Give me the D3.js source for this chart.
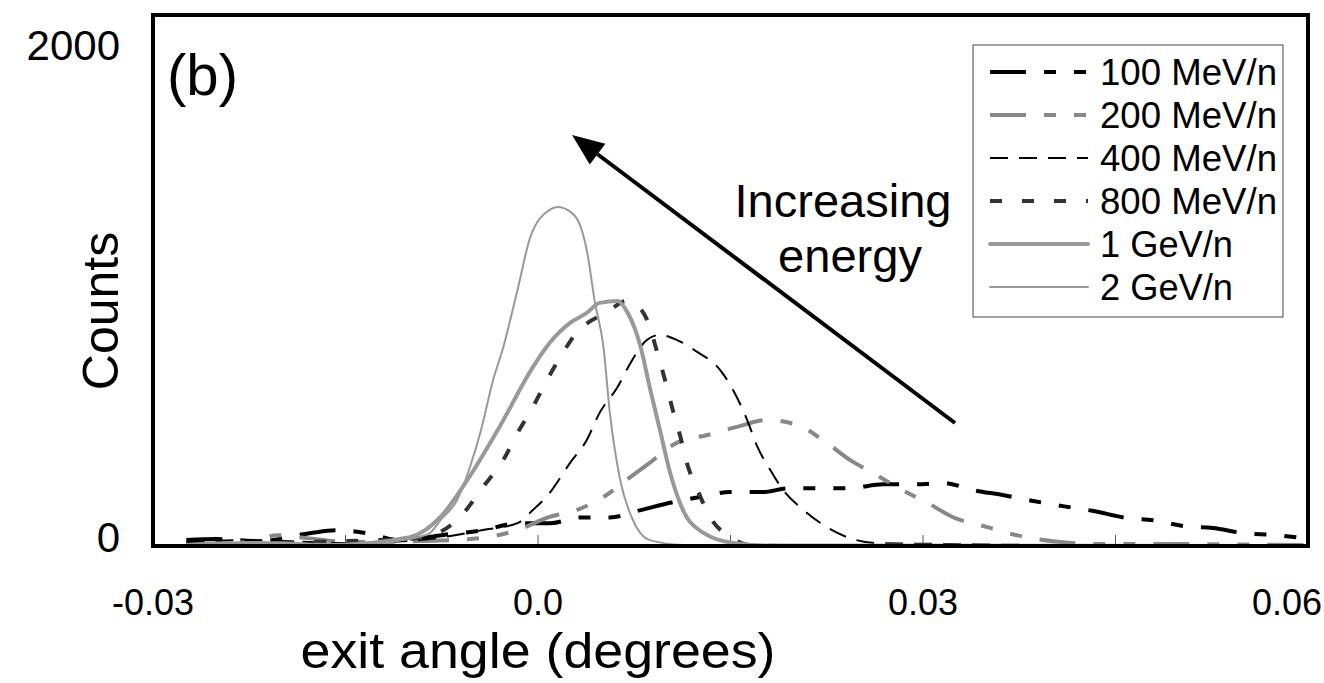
<!DOCTYPE html>
<html>
<head>
<meta charset="utf-8">
<script src="https://cdn.jsdelivr.net/npm/d3@7"></script>
<style>
  body { margin: 0; background: #fff; }
  svg { font-family: "Liberation Sans", Arial, sans-serif; }
</style>
</head>
<body>
<svg id="chart" width="1324" height="683"></svg>
<script>
// exit angle (degrees) vs counts
const mev100 = [[-0.0274,24],[-0.025,28],[-0.0217,20],[-0.0178,52],[-0.0157,64],[-0.0133,52],[-0.0108,24],[-0.0069,48],[-0.0043,64],[-0.0016,92],[0.0009,92],[0.0033,116],[0.0056,116],[0.008,146],[0.0105,178],[0.0126,199],[0.015,219],[0.0175,219],[0.0196,235],[0.0243,235],[0.0269,251],[0.0295,251],[0.0316,256],[0.0339,227],[0.0362,207],[0.0386,183],[0.0409,162],[0.0433,142],[0.0459,114],[0.0479,105],[0.0503,81],[0.0526,73],[0.0549,53],[0.0573,45],[0.06,30]];
const mev200 = [[-0.0274,8],[-0.0224,16],[-0.0203,44],[-0.018,32],[-0.0146,16],[-0.0092,20],[-0.0045,32],[-0.0016,65],[0.0009,118],[0.003,146],[0.0051,199],[0.0069,269],[0.0087,338],[0.0108,419],[0.0132,451],[0.0155,484],[0.0178,512],[0.0202,492],[0.0225,419],[0.0243,350],[0.0261,297],[0.0284,227],[0.0304,174],[0.0323,118],[0.035,77],[0.0372,45],[0.0407,16],[0.0438,8],[0.0477,8],[0.06,4]];
const mev400 = [[-0.0274,16],[-0.0224,24],[-0.0146,12],[-0.0092,24],[-0.0043,65],[-0.0016,93],[-0.0004,146],[0.0009,215],[0.0025,338],[0.0038,431],[0.0048,541],[0.0062,646],[0.0072,743],[0.0085,838],[0.0095,858],[0.0108,838],[0.0124,789],[0.0142,715],[0.0152,634],[0.0163,512],[0.0171,403],[0.0181,309],[0.0191,227],[0.0207,146],[0.0225,77],[0.0243,32],[0.0264,12],[0.032,8],[0.04,4],[0.06,2]];
const mev800 = [[-0.0274,4],[-0.0185,16],[-0.0092,32],[-0.0058,134],[-0.0043,239],[-0.0027,350],[-0.0016,459],[-0.0004,565],[0.0007,674],[0.0017,765],[0.003,866],[0.0054,951],[0.0069,996],[0.0074,988],[0.0086,907],[0.0093,785],[0.0099,674],[0.0105,553],[0.0111,443],[0.0116,338],[0.0125,219],[0.0134,118],[0.015,36],[0.0165,4],[0.02,0],[0.06,0]];
const gev1 = [[-0.0274,4],[-0.0217,12],[-0.0162,4],[-0.01,36],[-0.0076,118],[-0.0055,269],[-0.003,484],[-0.0004,727],[0.0009,825],[0.0025,907],[0.0038,947],[0.0048,988],[0.0062,996],[0.007,947],[0.008,809],[0.0087,646],[0.0095,472],[0.0103,297],[0.0113,146],[0.0129,53],[0.0152,12],[0.018,2],[0.06,0]];
const gev2 = [[-0.0275,5],[-0.022,8],[-0.02,12],[-0.017,6],[-0.014,3],[-0.0105,24],[-0.0085,50],[-0.0076,105],[-0.0063,187],[-0.0053,321],[-0.0045,459],[-0.0035,674],[-0.0027,809],[-0.0016,1040],[-0.0006,1255],[0.0009,1366],[0.0015,1378],[0.0025,1359],[0.0034,1285],[0.0039,1174],[0.0044,1000],[0.0051,809],[0.0056,541],[0.0064,269],[0.0074,105],[0.0087,24],[0.0113,4],[0.015,0],[0.06,0]];

const seriesNames = ["100 MeV/n", "200 MeV/n", "400 MeV/n", "800 MeV/n", "1 GeV/n", "2 GeV/n"];
const seriesData = [mev100, mev200, mev400, mev800, gev1, gev2];
const xTicks = [-0.03, -0.015, 0, 0.015, 0.03, 0.045, 0.06];
const xLabels = [[-0.03, "-0.03"], [0, "0.0"], [0.03, "0.03"], [0.06, "0.06"]];
const yLabels = [[0, "0"], [2000, "2000"]];

const styles = [
  {color: "#000", width: 4, dash: "36,18,12,18,12,18"},
  {color: "#888", width: 4, dash: "36,18,12,18,12,18"},
  {color: "#000", width: 2, dash: "18,11"},
  {color: "#333", width: 4, dash: "12,20"},
  {color: "#999", width: 4, dash: null},
  {color: "#999", width: 2, dash: null}
];

const svg = d3.select("#chart");
const plotLeft = 153, plotRight = 1308, plotTop = 15, plotBottom = 546;

const x = d3.scaleLinear().domain([-0.03, 0.06]).range([plotLeft, plotRight]);
const y = d3.scaleLinear().domain([0, 2158]).range([plotBottom, plotTop]);

// inner tick marks
svg.append("g")
    .selectAll("line")
    .data(xTicks)
    .enter()
    .append("line")
    .attr("x1", d => x(d))
    .attr("x2", d => x(d))
    .attr("y1", plotBottom)
    .attr("y2", plotBottom - 11)
    .attr("stroke", "#555")
    .attr("stroke-width", 1);

const line = d3.line()
    .x(d => x(d[0]))
    .y(d => y(d[1]))
    .curve(d3.curveMonotoneX);

seriesData.forEach((data, i) => {
    svg.append("path")
        .datum(data)
        .attr("d", line)
        .attr("fill", "none")
        .attr("stroke", styles[i].color)
        .attr("stroke-width", styles[i].width)
        .attr("stroke-dasharray", styles[i].dash)
        .attr("stroke-linejoin", "round");
});

// plot frame
svg.append("rect")
    .attr("x", plotLeft)
    .attr("y", plotTop)
    .attr("width", plotRight - plotLeft)
    .attr("height", plotBottom - plotTop)
    .attr("fill", "none")
    .attr("stroke", "#000")
    .attr("stroke-width", 4);

// axis labels (last one pulled inside the page like the original)
svg.append("g")
    .selectAll("text")
    .data(xLabels)
    .enter()
    .append("text")
    .attr("x", (d, i) => i === xLabels.length - 1 ? 1322 : x(d[0]))
    .attr("y", 615)
    .attr("text-anchor", (d, i) => i === xLabels.length - 1 ? "end" : "middle")
    .attr("font-size", "36px")
    .text(d => d[1]);

svg.append("g")
    .selectAll("text")
    .data(yLabels)
    .enter()
    .append("text")
    .attr("x", 120)
    .attr("y", d => y(d[0]) + 6)
    .attr("text-anchor", "end")
    .attr("font-size", "42px")
    .text(d => d[1]);

svg.append("text")
    .attr("x", 538)
    .attr("y", 668)
    .attr("text-anchor", "middle")
    .attr("font-size", "50px")
    .attr("textLength", 475)
    .attr("lengthAdjust", "spacingAndGlyphs")
    .text("exit angle (degrees)");

svg.append("text")
    .attr("transform", "translate(118, 311) rotate(-90)")
    .attr("text-anchor", "middle")
    .attr("font-size", "50px")
    .text("Counts");

svg.append("text")
    .attr("x", 167)
    .attr("y", 95)
    .attr("font-size", "58px")
    .attr("textLength", 71)
    .attr("lengthAdjust", "spacingAndGlyphs")
    .text("(b)");

// arrow
const ax0 = 955, ay0 = 423, ax1 = 572, ay1 = 135;
const ang = Math.atan2(ay1 - ay0, ax1 - ax0);
const headLen = 32, headW = 13;
const bx = ax1 - headLen * Math.cos(ang), by = ay1 - headLen * Math.sin(ang);
svg.append("line")
    .attr("x1", ax0).attr("y1", ay0)
    .attr("x2", bx).attr("y2", by)
    .attr("stroke", "#000")
    .attr("stroke-width", 4);
svg.append("path")
    .attr("d", `M${ax1},${ay1} L${bx + headW * Math.sin(ang)},${by - headW * Math.cos(ang)} L${bx - headW * Math.sin(ang)},${by + headW * Math.cos(ang)} Z`)
    .attr("fill", "#000");

svg.append("text")
    .attr("x", 843)
    .attr("y", 217)
    .attr("text-anchor", "middle")
    .attr("font-size", "46px")
    .attr("textLength", 217)
    .attr("lengthAdjust", "spacingAndGlyphs")
    .text("Increasing");
svg.append("text")
    .attr("x", 850)
    .attr("y", 272)
    .attr("text-anchor", "middle")
    .attr("font-size", "46px")
    .attr("textLength", 144)
    .attr("lengthAdjust", "spacingAndGlyphs")
    .text("energy");

// legend
const legend = svg.append("g");
legend.append("rect")
    .attr("x", 973)
    .attr("y", 45)
    .attr("width", 310)
    .attr("height", 272)
    .attr("fill", "#fff")
    .attr("stroke", "#444")
    .attr("stroke-width", 1);

seriesNames.forEach((name, i) => {
    const ly = 72 + i * 43;
    legend.append("line")
        .attr("x1", 990)
        .attr("x2", 1088)
        .attr("y1", ly)
        .attr("y2", ly)
        .attr("stroke", styles[i].color)
        .attr("stroke-width", styles[i].width)
        .attr("stroke-dasharray", styles[i].dash)
        .attr("stroke-linecap", i >= 4 ? "round" : "butt");
    legend.append("text")
        .attr("x", 1100)
        .attr("y", ly + 13)
        .attr("font-size", "36px")
        .attr("textLength", name.length > 7 ? 177 : 133)
        .attr("lengthAdjust", "spacingAndGlyphs")
        .text(name);
});
</script>
</body>
</html>
